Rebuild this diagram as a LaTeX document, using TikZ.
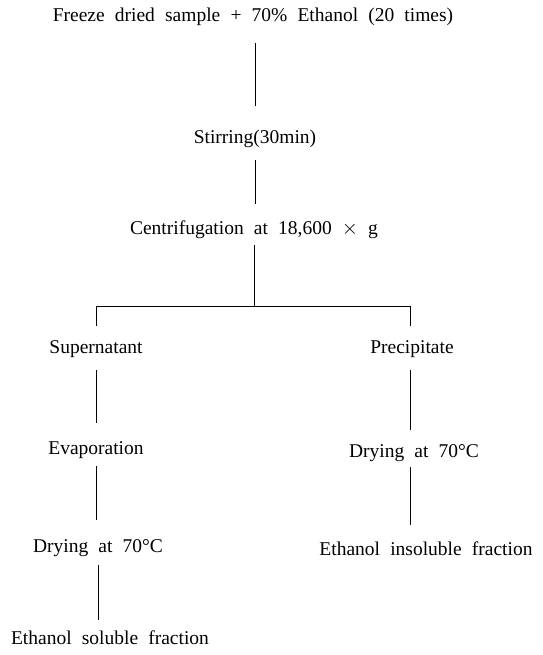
\documentclass[tikz,border=0pt]{standalone}
\usepackage{fontspec}
\setmainfont{Liberation Serif}
\usetikzlibrary{calc}
\newcommand{\lblfont}{\fontsize{19.5}{22}\selectfont\spaceskip=0.52em plus 0pt minus 0pt\relax}
\begin{document}
\begin{tikzpicture}[x=1pt,y=-1pt,
  lbl/.style={inner sep=0pt,text height=12pt,text depth=4pt,font=\lblfont},
  conn/.style={line width=0.9pt,black}]
\useasboundingbox (0,0) rectangle (542,655);
\node[lbl] (title) at (253,18) {Freeze dried sample + 70\% Ethanol (20 times)};
\node[lbl] (stir) at (255,140) {Stirring(30min)};
\node[lbl] (cent) at (254,230) {Centrifugation at 18,600 $\times$ g};
\node[lbl] (super) at (96,349) {Supernatant};
\node[lbl] (evap) at (96,450) {Evaporation};
\node[lbl] (dryL) at (98,548) {Drying at 70°C};
\node[lbl] (sol) at (110,640) {Ethanol soluble fraction};
\node[lbl] (prec) at (412,349) {Precipitate};
\node[lbl] (dryR) at (414,453) {Drying at 70°C};
\node[lbl] (insol) at (426,551) {Ethanol insoluble fraction};
\coordinate (split) at (254,306);
\coordinate (lt) at (96,306);
\coordinate (rt) at (410,306);
\draw[conn] ($(title.south -| stir)+(0,17)$) -- ($(stir.north)+(0,-26)$);
\draw[conn] ($(stir.south)+(0,12)$) -- ($(cent.north -| stir)+(0,-18)$);
\draw[conn] ($(cent.south)+(0,7)$) -- (split);
\draw[conn] (lt) -- (rt);
\draw[conn] (lt) -- ($(super.north)+(0,-15)$);
\draw[conn] (rt) -- ($(prec.north -| rt)+(0,-15)$);
\draw[conn] ($(super.south)+(0,13)$) -- ($(evap.north)+(0,-19)$);
\draw[conn] ($(evap.south)+(0,8)$) -- ($(dryL.north -| evap)+(0,-20)$);
\draw[conn] ($(dryL.south)+(0,9)$) -- ($(sol.north -| dryL)+(0,-12)$);
\draw[conn] ($(prec.south -| rt)+(0,13)$) -- ($(dryR.north -| rt)+(0,-15)$);
\draw[conn] ($(dryR.south -| rt)+(0,6)$) -- ($(insol.north -| rt)+(0,-18)$);
\end{tikzpicture}
\end{document}
